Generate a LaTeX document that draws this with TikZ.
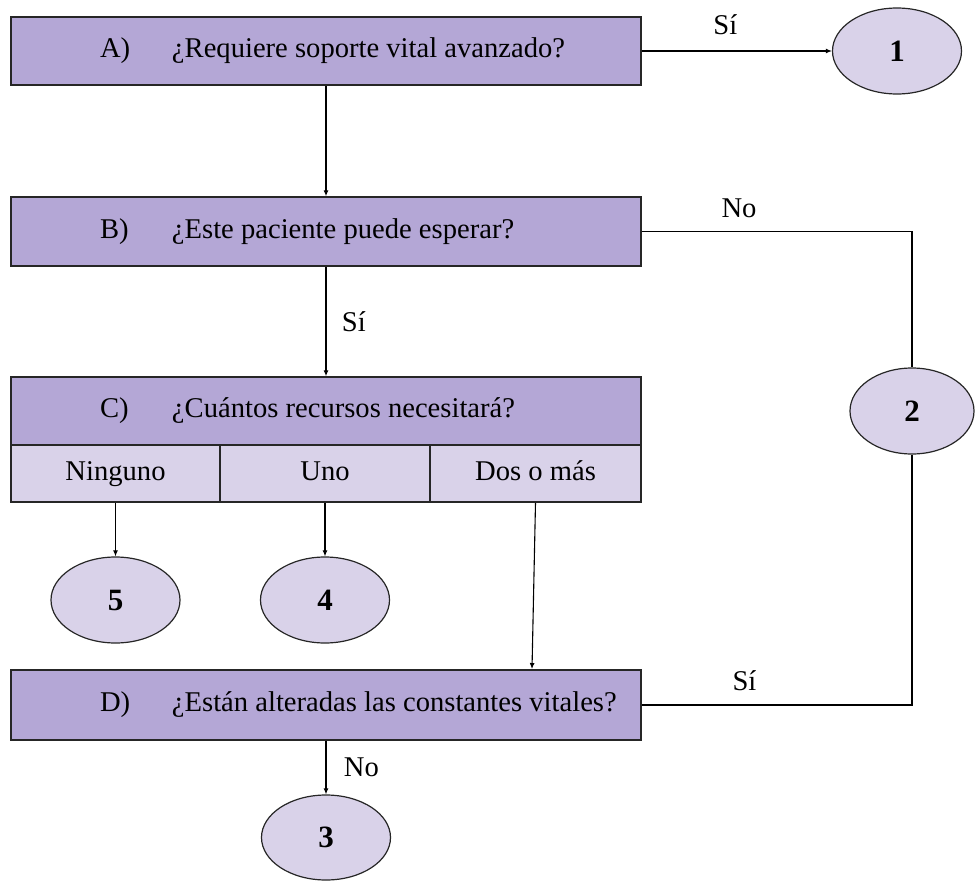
\documentclass[tikz,border=0pt]{standalone}
\usepackage{fontspec}
\setmainfont{Liberation Serif}
\usetikzlibrary{shapes.geometric,arrows.meta}
\definecolor{moradoA}{HTML}{B4A7D6}
\definecolor{moradoB}{HTML}{D9D2E9}
\newcommand{\pregunta}[2]{\makebox[600pt][l]{\hspace{74pt}\makebox[72pt][l]{#1}#2}}
\begin{document}
\begin{tikzpicture}[x=1pt,y=-1pt,font=\fontsize{28.6}{32}\selectfont,
	caja/.style={draw=black!85,line width=1.5pt,fill=moradoA,minimum width=630pt,minimum height=68pt,inner xsep=15pt,inner ysep=0pt},
	opcion/.style={draw=black!85,line width=1.6pt,fill=moradoB,minimum height=57pt,inner sep=0pt,text height=20pt,text depth=6pt},
	nivel/.style={ellipse,draw=black!85,line width=1.2pt,fill=moradoB,minimum width=129pt,minimum height=86pt,inner sep=0pt,font=\fontsize{31}{34}\selectfont\bfseries},
	flecha/.style={line width=1.1pt,-{Latex[length=6pt,width=5pt]}},
	linea/.style={line width=1.1pt}]
	\useasboundingbox (0,0) rectangle (975,881);
	\node[caja] (A) at (326,51) {\pregunta{A)}{¿Requiere soporte vital avanzado?}};
	\node[caja,minimum height=69pt] (B) at (326,231.5) {\pregunta{B)}{¿Este paciente puede esperar?}};
	\node[caja] (C) at (326,411) {\pregunta{C)}{¿Cuántos recursos necesitará?}};
	\foreach \n/\cx/\w/\t in {ninguno/115.5/209/Ninguno, uno/325/210/Uno, dos/535.5/211/Dos o más}
		\node[opcion,minimum width=\w pt] (\n) at (\cx,473.5) {\t};
	\node[caja,minimum height=70pt] (D) at (326,705) {\pregunta{D)}{¿Están alteradas las constantes vitales?}};
	% niveles de triaje
	\node[nivel] (n1) at (897,51) {1};
	\node[nivel,minimum width=124pt] (n2) at (912,411) {2};
	\node[nivel] (n5) at (115.5,600) {5};
	\node[nivel] (n4) at (325,600) {4};
	\node[nivel,minimum height=85pt] (n3) at (326,837.5) {3};
	\coordinate (dEntrada) at (532,669);
	\draw[flecha] (A) -- node[pos=0.44,above=12pt] {Sí} (n1);
	\draw[flecha] (A) -- (B);
	\draw[flecha] (B) -- node[right=12pt] {Sí} (C);
	\draw[linea] (B.east) -| node[pos=0.18,above=10pt] {No} (n2.north);
	\draw[linea] (n2.south) |- node[pos=0.81,above=10pt] {Sí} (D.east);
	\draw[flecha] (ninguno) -- (n5);
	\draw[flecha] (uno) -- (n4);
	\draw[flecha] (dos.south) -- (dEntrada);
	\draw[flecha] (D) -- node[right=14pt] {No} (n3);
\end{tikzpicture}
\end{document}
